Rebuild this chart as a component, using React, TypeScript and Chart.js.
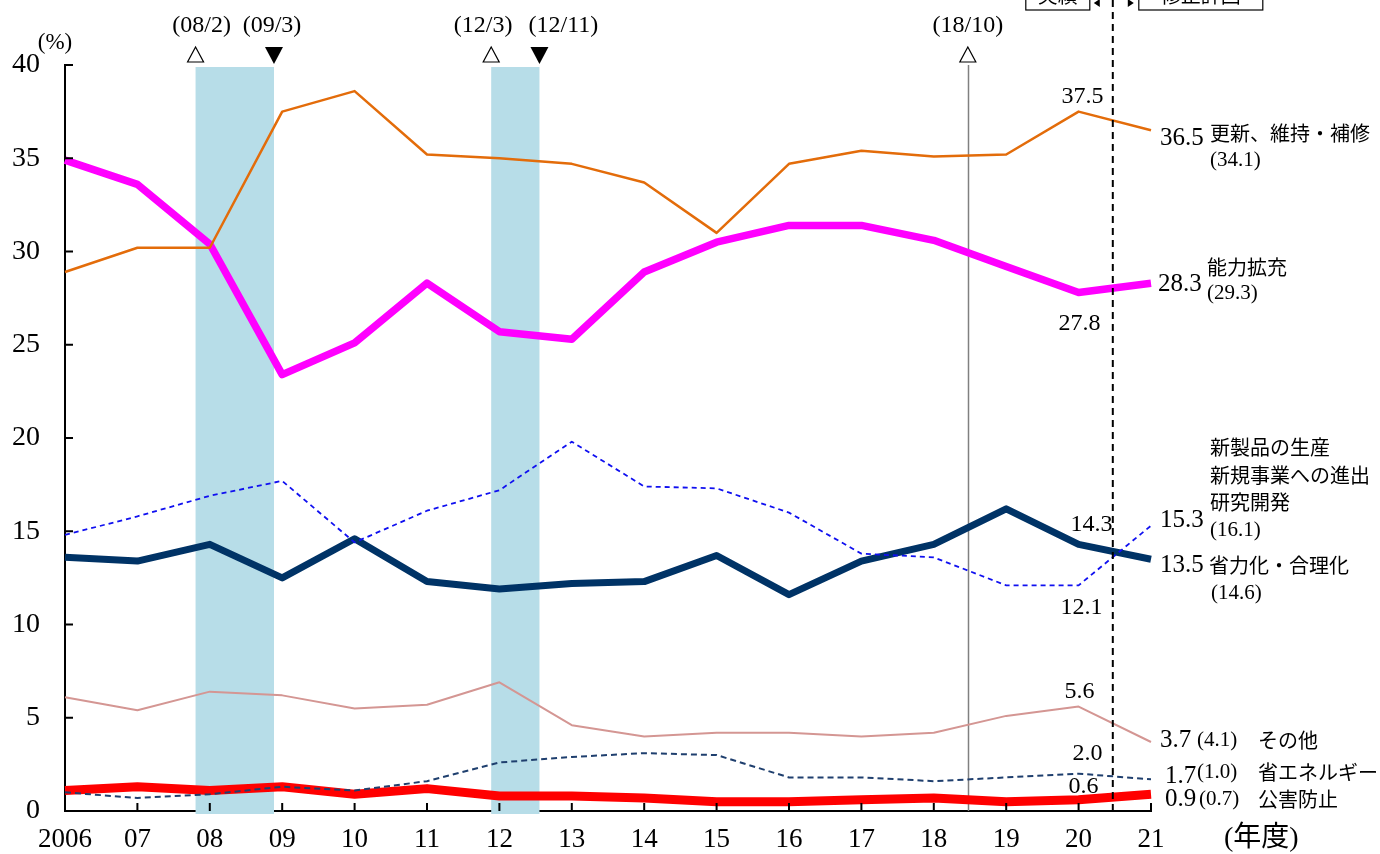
import { useEffect, useRef } from 'react';
import { Chart, registerables } from 'chart.js';

Chart.register(...registerables);

const SERIF = '"Liberation Serif", "DejaVu Serif", "Noto Sans CJK JP", serif';
const JP = '"Noto Sans CJK JP", "Liberation Serif", sans-serif';

// Fiscal years
const xLabels = ['2006', '07', '08', '09', '10', '11', '12', '13', '14', '15', '16', '17', '18', '19', '20', '21'];

// Series (%)
const renewal = [28.9, 30.2, 30.2, 37.5, 38.6, 35.2, 35.0, 34.7, 33.7, 31.0, 34.7, 35.4, 35.1, 35.2, 37.5, 36.5];
const capacity = [34.9, 33.6, 30.4, 23.4, 25.1, 28.3, 25.7, 25.3, 28.9, 30.5, 31.4, 31.4, 30.6, 29.2, 27.8, 28.3];
const newProducts = [14.8, 15.8, 16.9, 17.7, 14.4, 16.1, 17.2, 19.8, 17.4, 17.3, 16.0, 13.8, 13.6, 12.1, 12.1, 15.3];
const rationalization = [13.6, 13.4, 14.3, 12.5, 14.6, 12.3, 11.9, 12.2, 12.3, 13.7, 11.6, 13.4, 14.3, 16.2, 14.3, 13.5];
const others = [6.1, 5.4, 6.4, 6.2, 5.5, 5.7, 6.9, 4.6, 4.0, 4.2, 4.2, 4.0, 4.2, 5.1, 5.6, 3.7];
const energySaving = [1.0, 0.7, 0.9, 1.3, 1.1, 1.6, 2.6, 2.9, 3.1, 3.0, 1.8, 1.8, 1.6, 1.8, 2.0, 1.7];
const pollution = [1.1, 1.3, 1.1, 1.3, 0.9, 1.2, 0.8, 0.8, 0.7, 0.5, 0.5, 0.6, 0.7, 0.5, 0.6, 0.9];

// Previous-plan values (in parentheses)
const prevRenewal = '(34.1)';
const prevCapacity = '(29.3)';
const prevNewProducts = '(16.1)';
const prevRationalization = '(14.6)';
const prevOthers = '(4.1)';
const prevEnergy = '(1.0)';
const prevPollution = '(0.7)';

// Business cycle events: calendar year / month, kind (peak = △, trough = ▼)
const eventLabels = ['(08/2)', '(09/3)', '(12/3)', '(12/11)', '(18/10)'];
const eventYears = [2008, 2009, 2012, 2012, 2018];
const eventMonths = [2, 3, 3, 11, 10];
const eventKinds = ['peak', 'trough', 'peak', 'trough', 'peak'];
const recessions = [[0, 1], [2, 3]];
const forecastBoundary = 14.5; // between FY2020 (実績) and FY2021 (修正計画)

const eventPos = (i: number) => eventYears[i] + (eventMonths[i] - 1) / 12 - 2006.28;

const overlay = {
  id: 'overlay',
  beforeDatasetsDraw(chart: any) {
    const { ctx, chartArea, scales } = chart;
    const x = scales.x;
    ctx.save();
    ctx.fillStyle = '#B7DDE8';
    recessions.forEach(([a, b]) => {
      const x1 = x.getPixelForValue(eventPos(a));
      const x2 = x.getPixelForValue(eventPos(b));
      ctx.fillRect(x1, chartArea.top + 2, x2 - x1, chartArea.bottom - chartArea.top + 1);
    });
    // lone peak line (18/10)
    ctx.strokeStyle = '#808080';
    ctx.lineWidth = 1.5;
    const xp = Math.round(x.getPixelForValue(eventPos(4))) + 0.5;
    ctx.beginPath();
    ctx.moveTo(xp, chartArea.top);
    ctx.lineTo(xp, chartArea.bottom);
    ctx.stroke();
    ctx.restore();
  },
  afterDatasetsDraw(chart: any) {
    const { ctx, chartArea, scales } = chart;
    const x = scales.x;
    const y = scales.y;
    ctx.save();

    // inward tick marks
    ctx.strokeStyle = '#000';
    ctx.lineWidth = 2;
    ctx.beginPath();
    for (let i = 0; i < xLabels.length; i++) {
      const px = x.getPixelForValue(i);
      ctx.moveTo(px, chartArea.bottom);
      ctx.lineTo(px, chartArea.bottom - 8);
    }
    for (let v = 0; v <= 40; v += 5) {
      const py = y.getPixelForValue(v);
      ctx.moveTo(chartArea.left, py);
      ctx.lineTo(chartArea.left + 8, py);
    }
    ctx.stroke();

    // forecast boundary dashed line
    const xb = x.getPixelForValue(forecastBoundary) - 2;
    ctx.setLineDash([7, 5]);
    ctx.lineWidth = 2;
    ctx.beginPath();
    ctx.moveTo(xb, 0);
    ctx.lineTo(xb, chartArea.bottom);
    ctx.stroke();
    ctx.setLineDash([]);

    // 実績 / 修正計画 boxes (cut at top)
    ctx.lineWidth = 1.2;
    ctx.strokeRect(xb - 87, -30, 64, 40);
    ctx.strokeRect(xb + 26, -30, 124, 40);
    ctx.fillStyle = '#000';
    ctx.font = `20px ${JP}`;
    ctx.textAlign = 'center';
    ctx.textBaseline = 'middle';
    ctx.fillText('実績', xb - 55, -5);
    ctx.fillText('修正計画', xb + 88, -5);
    ctx.beginPath();
    ctx.moveTo(xb - 19, 3); ctx.lineTo(xb - 13, -1); ctx.lineTo(xb - 13, 7); ctx.closePath();
    ctx.moveTo(xb + 21, 3); ctx.lineTo(xb + 15, -1); ctx.lineTo(xb + 15, 7); ctx.closePath();
    ctx.fill();

    // business cycle markers
    eventLabels.forEach((lab, i) => {
      const px = x.getPixelForValue(eventPos(i));
      ctx.font = `24px ${SERIF}`;
      ctx.fillStyle = '#000';
      ctx.textAlign = 'center';
      ctx.textBaseline = 'middle';
      const dx = i === 0 ? 6 : i === 1 ? -2 : i === 2 ? -8 : i === 3 ? 24 : 0;
      ctx.fillText(lab, px + dx, 26);
      ctx.beginPath();
      if (eventKinds[i] === 'peak') {
        ctx.moveTo(px, 47);
        ctx.lineTo(px + 8, 62);
        ctx.lineTo(px - 8, 62);
        ctx.closePath();
        ctx.lineWidth = 1.2;
        ctx.stroke();
      } else {
        ctx.moveTo(px - 9, 47);
        ctx.lineTo(px + 9, 47);
        ctx.lineTo(px, 64);
        ctx.closePath();
        ctx.fill();
      }
    });

    // value labels
    const x20 = x.getPixelForValue(14);
    const x21 = x.getPixelForValue(15);
    const num = (t: string, px: number, py: number, align: CanvasTextAlign = 'center', size = 24) => {
      ctx.font = `${size}px ${SERIF}`;
      ctx.textAlign = align;
      ctx.textBaseline = 'middle';
      ctx.fillStyle = '#000';
      ctx.fillText(t, px, py);
    };
    const jp = (t: string, px: number, py: number) => {
      ctx.font = `20px ${JP}`;
      ctx.textAlign = 'left';
      ctx.textBaseline = 'middle';
      ctx.fillStyle = '#000';
      ctx.fillText(t, px, py);
    };
    const L = (v: number) => y.getPixelForValue(v);

    num(renewal[14].toFixed(1), x20 + 4, L(renewal[14]) - 15);
    num(capacity[14].toFixed(1), x20 + 1, L(capacity[14]) + 31);
    num(rationalization[14].toFixed(1), x20 + 13, L(rationalization[14]) - 20);
    num(newProducts[14].toFixed(1), x20 + 3, L(newProducts[14]) + 22);
    num(others[14].toFixed(1), x20 + 1, L(others[14]) - 15);
    num(energySaving[14].toFixed(1), x20 + 9, L(energySaving[14]) - 20);
    num(pollution[14].toFixed(1), x20 + 5, L(pollution[14]) - 13);

    const xr = x21 + 9;
    const xn = x21 + 59;
    num(renewal[15].toFixed(1), xr, L(renewal[15]) + 8, 'left', 25);
    jp('更新、維持・補修', xn, L(renewal[15]) + 3);
    num(prevRenewal, xn, L(renewal[15]) + 30, 'left', 21);

    num(capacity[15].toFixed(1), xr - 2, L(capacity[15]) + 1, 'left', 25);
    jp('能力拡充', xn - 3, L(capacity[15]) - 16);
    num(prevCapacity, xn - 3, L(capacity[15]) + 10, 'left', 21);

    num(newProducts[15].toFixed(1), xr, L(newProducts[15]) - 5, 'left', 25);
    jp('新製品の生産', xn, L(newProducts[15]) - 78);
    jp('新規事業への進出', xn, L(newProducts[15]) - 50);
    jp('研究開発', xn, L(newProducts[15]) - 23);
    num(prevNewProducts, xn, L(newProducts[15]) + 5, 'left', 21);

    num(rationalization[15].toFixed(1), xr, L(rationalization[15]) + 6, 'left', 25);
    jp('省力化・合理化', xn - 1, L(rationalization[15]) + 6);
    num(prevRationalization, xn + 1, L(rationalization[15]) + 34, 'left', 21);

    num(others[15].toFixed(1), xr, L(others[15]) - 2, 'left', 25);
    num(prevOthers, xr + 37, L(others[15]) - 2, 'left', 21);
    jp('その他', xr + 98, L(others[15]) - 2);

    num(energySaving[15].toFixed(1), xr + 5, L(energySaving[15]) - 3, 'left', 25);
    num(prevEnergy, xr + 37, L(energySaving[15]) - 7, 'left', 21);
    jp('省エネルギー', xr + 98, L(energySaving[15]) - 7);

    num(pollution[15].toFixed(1), xr + 5, L(pollution[15]) + 5, 'left', 25);
    num(prevPollution, xr + 39, L(pollution[15]) + 5, 'left', 21);
    jp('公害防止', xr + 98, L(pollution[15]) + 5);

    // axis unit labels
    num('(%)', chartArea.left - 10, chartArea.top - 22, 'center', 23);
    ctx.font = `28px ${SERIF}`;
    ctx.textAlign = 'left';
    ctx.textBaseline = 'middle';
    ctx.fillText('(年度)', x21 + 73, chartArea.bottom + 28);

    ctx.restore();
  },
};

export default function App() {
  const ref = useRef<HTMLCanvasElement>(null);
  useEffect(() => {
    if (!ref.current) return;
    const ds = (label: string, data: number[], color: string, width: number, dash: number[] = []) => ({
      label,
      data,
      borderColor: color,
      backgroundColor: color,
      borderWidth: width,
      borderDash: dash,
      pointRadius: 0,
      pointHoverRadius: 0,
      tension: 0,
      fill: false,
      borderJoinStyle: 'round' as const,
    });
    const chart = new Chart(ref.current, {
      type: 'line',
      data: {
        labels: xLabels,
        datasets: [
          ds('省エネルギー', energySaving, '#1F3F6E', 2, [6, 4]),
          ds('新製品の生産・新規事業への進出・研究開発', newProducts, '#1010F0', 1.8, [5, 4]),
          ds('更新、維持・補修', renewal, '#E36C0A', 2.5),
          ds('その他', others, '#D49693', 2),
          ds('能力拡充', capacity, '#FF00FF', 7.5),
          ds('省力化・合理化', rationalization, '#003366', 7),
          ds('公害防止', pollution, '#FF0000', 9),
        ],
      },
      options: {
        responsive: false,
        animation: false,
        events: [],
        layout: { padding: { left: 8, right: 229, top: 65, bottom: 0 } },
        plugins: {
          legend: { display: false },
          tooltip: { enabled: false },
          title: { display: false },
        },
        scales: {
          x: {
            type: 'category',
            offset: false,
            grid: { display: false },
            border: { display: true, color: '#000', width: 2 },
            ticks: {
              color: '#000',
              font: { family: SERIF, size: 27 },
              maxRotation: 0,
              autoSkip: false,
              padding: 5,
            },
            afterFit: (s: any) => { s.height = 43; },
          },
          y: {
            min: 0,
            max: 40,
            grid: { display: false },
            border: { display: true, color: '#000', width: 2 },
            ticks: {
              stepSize: 5,
              color: '#000',
              font: { family: SERIF, size: 28 },
              padding: 17,
            },
            afterFit: (s: any) => { s.width = 57; },
          },
        },
      },
      plugins: [overlay],
    });
    return () => chart.destroy();
  }, []);
  return (
    <div style={{ position: 'fixed', left: 0, top: 0, width: 1380, height: 854, background: '#fff' }}>
      <canvas ref={ref} width={1380} height={854} style={{ width: 1380, height: 854, display: 'block' }} />
    </div>
  );
}
